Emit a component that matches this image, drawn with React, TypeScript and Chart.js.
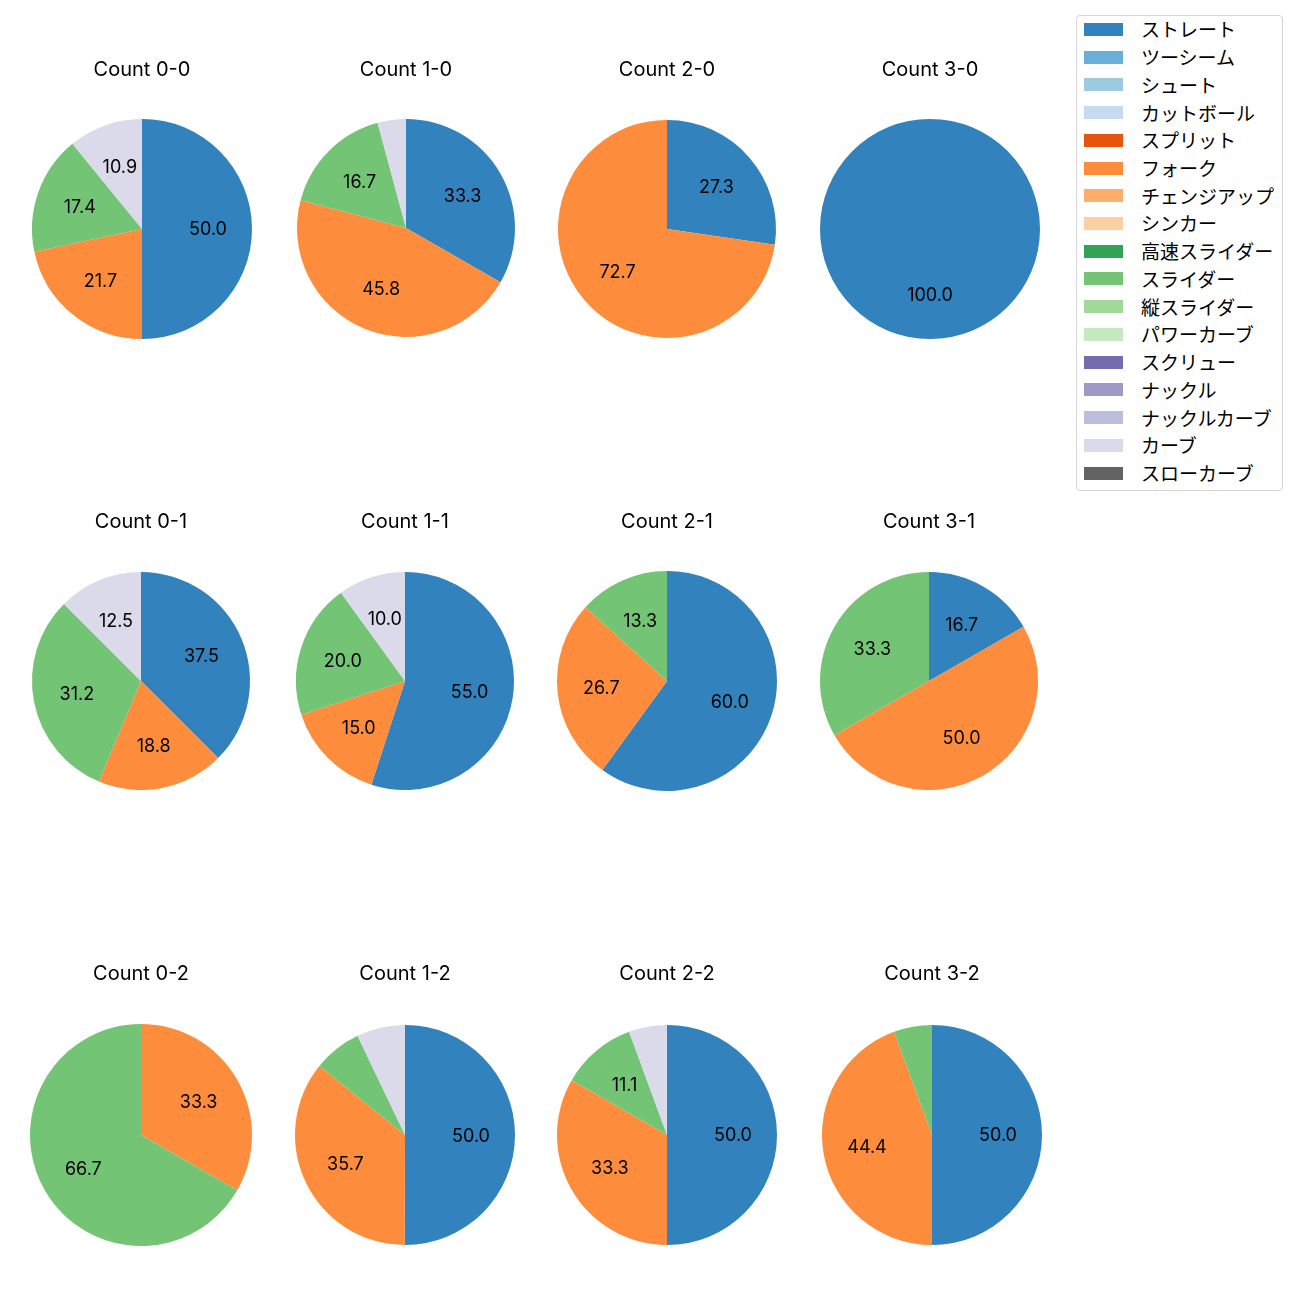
import React, { useEffect, useRef } from "react";
import { Chart, registerables } from "chart.js";

Chart.register(...registerables);

// ---- Data ----
const pitchTypes = [
  "ストレート", "ツーシーム", "シュート", "カットボール", "スプリット", "フォーク",
  "チェンジアップ", "シンカー", "高速スライダー", "スライダー", "縦スライダー",
  "パワーカーブ", "スクリュー", "ナックル", "ナックルカーブ", "カーブ", "スローカーブ",
];
const pitchColors = [
  "#3182bd", "#6baed6", "#9ecae1", "#c6dbef", "#e6550d", "#fd8d3c",
  "#fdae6b", "#fdd0a2", "#31a354", "#74c476", "#a1d99b",
  "#c7e9c0", "#756bb1", "#9e9ac8", "#bcbddc", "#dadaeb", "#636363",
];

const countTitles = [
  "Count 0-0", "Count 1-0", "Count 2-0", "Count 3-0",
  "Count 0-1", "Count 1-1", "Count 2-1", "Count 3-1",
  "Count 0-2", "Count 1-2", "Count 2-2", "Count 3-2",
];

const slices00 = ["ストレート", "フォーク", "スライダー", "カーブ"];
const values00 = [50.0, 21.7, 17.4, 10.9];
const slices10 = ["ストレート", "フォーク", "スライダー", "カーブ"];
const values10 = [33.3, 45.8, 16.7, 4.2];
const slices20 = ["ストレート", "フォーク"];
const values20 = [27.3, 72.7];
const slices30 = ["ストレート"];
const values30 = [100.0];
const slices01 = ["ストレート", "フォーク", "スライダー", "カーブ"];
const values01 = [37.5, 18.8, 31.2, 12.5];
const slices11 = ["ストレート", "フォーク", "スライダー", "カーブ"];
const values11 = [55.0, 15.0, 20.0, 10.0];
const slices21 = ["ストレート", "フォーク", "スライダー"];
const values21 = [60.0, 26.7, 13.3];
const slices31 = ["ストレート", "フォーク", "スライダー"];
const values31 = [16.7, 50.0, 33.3];
const slices02 = ["フォーク", "スライダー"];
const values02 = [33.3, 66.7];
const slices12 = ["ストレート", "フォーク", "スライダー", "カーブ"];
const values12 = [50.0, 35.7, 7.1, 7.1];
const slices22 = ["ストレート", "フォーク", "スライダー", "カーブ"];
const values22 = [50.0, 33.3, 11.1, 5.6];
const slices32 = ["ストレート", "フォーク", "スライダー"];
const values32 = [50.0, 44.4, 5.6];

const allSlices = [slices00, slices10, slices20, slices30, slices01, slices11, slices21, slices31, slices02, slices12, slices22, slices32];
const allValues = [values00, values10, values20, values30, values01, values11, values21, values31, values02, values12, values22, values32];

const labelThreshold = 10;

// ---- Layout (pixel geometry, separate from data) ----
const pieCx = [142, 406, 667, 930, 141, 405, 667, 929, 141, 405, 667, 932];
const pieCy = [229, 228, 229, 229, 681, 681, 681, 681, 1135, 1135, 1135, 1135];
const pieR = [110, 109, 109, 110, 109, 109, 110, 109, 111, 110, 110, 110];
const titleY = [70, 70, 70, 70, 522, 522, 522, 522, 974, 974, 974, 974];

const LATIN_FONT = "Inter, 'Noto Sans', sans-serif";
const CJK_FONT = "'Noto Sans CJK JP', sans-serif";
const TITLE_SIZE = 20;
const LABEL_SIZE = 18;
const LABEL_DY = 1;
const LEGEND_SIZE = 19;

const pctLabelPlugin = {
  id: "pctLabels",
  afterDatasetsDraw(chart: any) {
    const ctx = chart.ctx;
    const meta = chart.getDatasetMeta(0);
    const data = chart.data.datasets[0].data as number[];
    ctx.save();
    ctx.font = `${LABEL_SIZE}px ${LATIN_FONT}`;
    ctx.fillStyle = "#000";
    ctx.textAlign = "center";
    ctx.textBaseline = "middle";
    meta.data.forEach((arc: any, i: number) => {
      const v = data[i];
      if (v < labelThreshold) return;
      const p = arc.getProps(["x", "y", "startAngle", "endAngle", "outerRadius"], true);
      const mid = (p.startAngle + p.endAngle) / 2;
      const d = p.outerRadius * 0.6;
      ctx.fillText(v.toFixed(1), p.x + Math.cos(mid) * d, p.y + Math.sin(mid) * d + LABEL_DY);
    });
    ctx.restore();
  },
};

function PieCell({ idx }: { idx: number }) {
  const ref = useRef<HTMLCanvasElement | null>(null);
  const r = pieR[idx];
  const lineH = TITLE_SIZE * 1.2;
  const top = titleY[idx] - lineH / 2;
  const padBottom = pieCy[idx] - r - top - lineH;
  const height = pieCy[idx] + r - top;
  const width = 2 * r + 40;
  const left = pieCx[idx] - width / 2;

  useEffect(() => {
    if (!ref.current) return;
    const labels = allSlices[idx];
    const colors = labels.map((l) => pitchColors[pitchTypes.indexOf(l)]);
    const chart = new Chart(ref.current, {
      type: "pie",
      data: {
        labels,
        datasets: [{ data: allValues[idx], backgroundColor: colors, borderWidth: 0 }],
      },
      options: {
        responsive: false,
        animation: false,
        devicePixelRatio: 1,
        layout: { padding: 0 },
        plugins: {
          legend: { display: false },
          tooltip: { enabled: false },
          title: {
            display: true,
            text: countTitles[idx],
            color: "#000",
            font: { family: LATIN_FONT, size: TITLE_SIZE, weight: "normal", lineHeight: 1.2 },
            padding: { top: 0, bottom: padBottom },
          },
        },
      } as any,
      plugins: [pctLabelPlugin],
    });
    return () => chart.destroy();
  }, [idx]);

  return (
    <canvas
      ref={ref}
      width={width}
      height={height}
      style={{ position: "absolute", left, top, width, height }}
    />
  );
}

function Legend() {
  const boxLeft = 1076;
  const boxTop = 15;
  const firstRow = 29.3;
  const rowStep = 27.74;
  return (
    <div
      style={{
        position: "absolute",
        left: boxLeft,
        top: boxTop,
        width: 207,
        height: 476,
        border: "1px solid #d6d6d6",
        borderRadius: 4,
        background: "#fff",
        boxSizing: "border-box",
      }}
    >
      {pitchTypes.map((name, i) => {
        const cy = firstRow + i * rowStep - boxTop - 1;
        return (
          <React.Fragment key={name}>
            <div
              style={{
                position: "absolute",
                left: 1084 - boxLeft - 1,
                top: cy - 6.5,
                width: 39,
                height: 13,
                background: pitchColors[i],
              }}
            />
            <div
              style={{
                position: "absolute",
                left: 1141 - boxLeft - 1,
                top: cy - 14,
                height: 28,
                lineHeight: "28px",
                fontSize: LEGEND_SIZE,
                fontFamily: CJK_FONT,
                color: "#000",
                whiteSpace: "nowrap",
              }}
            >
              {name}
            </div>
          </React.Fragment>
        );
      })}
    </div>
  );
}

export default function App() {
  return (
    <div
      style={{
        position: "absolute",
        left: 0,
        top: 0,
        width: 1300,
        height: 1300,
        background: "#fff",
        overflow: "hidden",
      }}
    >
      {countTitles.map((_, i) => (
        <PieCell key={i} idx={i} />
      ))}
      <Legend />
    </div>
  );
}
